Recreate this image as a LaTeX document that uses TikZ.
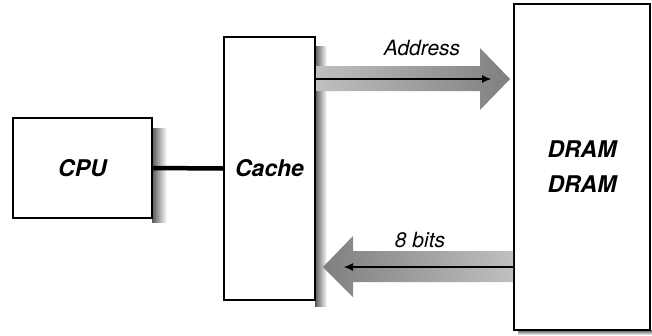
\documentclass[tikz,border=0pt]{standalone}
\usepackage{fontspec}
\setmainfont{TeX Gyre Heros}
\usetikzlibrary{arrows.meta}
\begin{document}
\begin{tikzpicture}[x=1pt,y=-1pt,
  box/.style={draw=black, line width=2pt, fill=white, inner sep=0pt},
  boxlbl/.style={font=\fontsize{23}{35}\selectfont\bfseries\itshape, align=center},
  buslbl/.style={font=\fontsize{21}{24}\selectfont\itshape, inner sep=0pt},
  shadowR/.style={left color=black!65, right color=white},
  shadowB/.style={top color=black!65, bottom color=white},
  fatarrow/.style={draw=none},
  thinline/.style={draw=black, line width=1.1pt, -{Latex[length=9pt,width=8pt]}}]
\useasboundingbox (0,0) rectangle (652,335);
% shadows
\shade[shadowR] (152,128) rectangle (167,222);
\shade[shadowR] (315,46) rectangle (327,306);
\shade[shadowB] (518,330) rectangle (652,335);
% boxes
\node[box, minimum width=139pt, minimum height=100pt] (cpu) at (82.5,168) {};
\node[box, minimum width=91pt, minimum height=263pt] (cache) at (269.5,168.5) {};
\node[box, minimum width=136pt, minimum height=326pt] (dram) at (582,167) {};
\node[boxlbl] (cpul) at (cpu.center) {CPU};
\node[boxlbl] (cachel) at (cache.center) {Cache};
\node[boxlbl] (draml) at (dram.center) {DRAM\\DRAM};
% CPU - Cache
\draw[line width=4.5pt] (cpu.east) -- (cache.west);
% Address bus
\coordinate (a0) at (cache.east |- 0,79);
\coordinate (a1) at (dram.west |- 0,79);
\shade[left color=black!25, right color=black!50, fatarrow]
  ([yshift=-12pt]a0) -- ([xshift=-33pt,yshift=-12pt]a1) -- ([xshift=-33pt,yshift=-31pt]a1)
  -- ([xshift=-3pt]a1) -- ([xshift=-33pt,yshift=31pt]a1) -- ([xshift=-33pt,yshift=13pt]a1)
  -- ([yshift=13pt]a0) -- cycle;
\draw[thinline] (a0) -- ([xshift=-22pt]a1);
\node[buslbl, anchor=base] (addr) at (422,55) {Address};
% 8 bits bus
\coordinate (b0) at (dram.west |- 0,267);
\coordinate (b1) at (cache.east |- 0,267);
\shade[left color=black!50, right color=black!25, fatarrow]
  ([yshift=-15pt]b0) -- ([xshift=37pt,yshift=-15pt]b1) -- ([xshift=37pt,yshift=-30pt]b1)
  -- ([xshift=7pt]b1) -- ([xshift=37pt,yshift=31pt]b1) -- ([xshift=37pt,yshift=16pt]b1)
  -- ([yshift=16pt]b0) -- cycle;
\draw[thinline] (b0) -- ([xshift=28pt]b1);
\node[buslbl, anchor=base] (bits) at (420,247) {8 bits};
\end{tikzpicture}
\end{document}
